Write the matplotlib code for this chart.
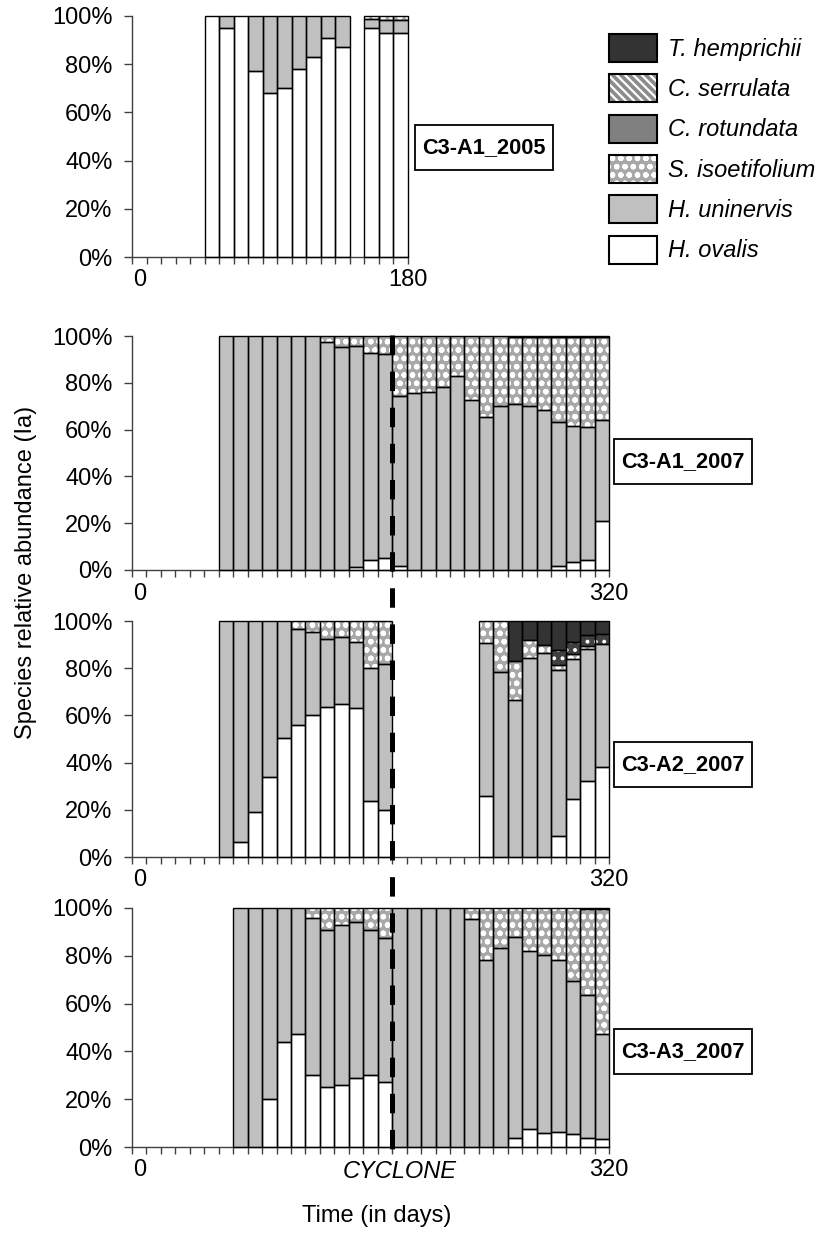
#Import necessary package
import numpy as np
import matplotlib
matplotlib.use("Agg")
import matplotlib.pyplot as plt
from matplotlib.patches import Patch, Rectangle
from matplotlib.lines import Line2D
from matplotlib.legend_handler import HandlerTuple

plt.rcParams['font.family'] = ['Liberation Sans', 'DejaVu Sans']
plt.rcParams['lines.scale_dashes'] = False
plt.rcParams['hatch.linewidth'] = 1.6

W, H = 826, 1242  #figure size in pixels
FS = 17

#Time axis (one category every 10 days)
days_2005 = list(range(0, 190, 10))
days_2007 = list(range(0, 330, 10))

#C3-A1_2005 (% per species)
a1_05_ovalis = [0, 0, 0, 0, 0, 100, 95, 100, 77, 68, 70, 78, 83, 91, 87, 0, 95, 93, 93]
a1_05_uninervis = [0, 0, 0, 0, 0, 0, 5, 0, 23, 32, 30, 22, 17, 9, 13, 0, 3.6, 5.2, 5.2]
a1_05_isoet = [0, 0, 0, 0, 0, 0, 0, 0, 0, 0, 0, 0, 0, 0, 0, 0, 1.4, 1.8, 1.8]

#C3-A1_2007
a1_07_ovalis = [0, 0, 0, 0, 0, 0, 0, 0, 0, 0,
                0, 0, 0, 0, 0, 1.1, 4.3, 5.0, 1.9, 0,
                0, 0, 0, 0, 0, 0, 0, 0, 0, 1.9,
                3.4, 4.3, 20.9]
a1_07_uninervis = [0, 0, 0, 0, 0, 0, 100, 100, 100, 100,
                   100, 100, 100, 97.4, 95.4, 94.6, 88.3, 87.2, 72.5, 75.5,
                   76.2, 78.3, 83.0, 72.5, 65.5, 70.2, 70.8, 70.2, 68.4, 61.5,
                   58.1, 57.0, 43.2]
a1_07_isoet = [0, 0, 0, 0, 0, 0, 0, 0, 0, 0,
               0, 0, 0, 2.6, 4.6, 4.3, 7.4, 7.8, 25.6, 24.5,
               23.8, 21.7, 17.0, 27.5, 34.5, 29.8, 28.6, 29.2, 31.0, 36.0,
               37.9, 38.1, 35.3]
a1_07_hemprichii = [0, 0, 0, 0, 0, 0, 0, 0, 0, 0,
                    0, 0, 0, 0, 0, 0, 0, 0, 0, 0,
                    0, 0, 0, 0, 0, 0, 0.6, 0.6, 0.6, 0.6,
                    0.6, 0.6, 0.6]

#C3-A2_2007
a2_07_ovalis = [0, 0, 0, 0, 0, 0, 0, 6.4, 19.1, 33.9,
                50.6, 56.1, 60.0, 63.6, 64.7, 63.1, 23.7, 20.1, 0, 0,
                0, 0, 0, 0, 25.7, 0, 0, 0, 0, 8.9,
                24.7, 32.1, 38.1]
a2_07_uninervis = [0, 0, 0, 0, 0, 0, 100, 93.6, 80.9, 66.1,
                   49.4, 40.7, 35.3, 28.9, 28.5, 28.0, 56.4, 61.8, 0, 0,
                   0, 0, 0, 0, 65.0, 78.4, 66.7, 84.3, 86.4, 70.5,
                   59.3, 56.2, 52.3]
a2_07_isoet = [0, 0, 0, 0, 0, 0, 0, 0, 0, 0,
               0, 3.2, 4.7, 7.5, 6.8, 8.9, 19.9, 18.1, 0, 0,
               0, 0, 0, 0, 9.3, 21.6, 16.4, 7.5, 3.3, 2.1,
               1.9, 1.0, 0]
a2_07_serrulata = [0, 0, 0, 0, 0, 0, 0, 0, 0, 0,
                   0, 0, 0, 0, 0, 0, 0, 0, 0, 0,
                   0, 0, 0, 0, 0, 0, 0, 0, 0, 6.4,
                   5.2, 4.6, 4.0]
a2_07_hemprichii = [0, 0, 0, 0, 0, 0, 0, 0, 0, 0,
                    0, 0, 0, 0, 0, 0, 0, 0, 0, 0,
                    0, 0, 0, 0, 0, 0, 16.9, 8.2, 10.3, 12.1,
                    8.9, 6.1, 5.6]

#C3-A3_2007
a3_07_ovalis = [0, 0, 0, 0, 0, 0, 0, 0, 0, 20.0,
                44.1, 47.1, 30.1, 24.9, 25.9, 28.7, 30.1, 27.3, 0, 0,
                0, 0, 0, 0, 0, 0, 3.8, 7.4, 5.9, 6.3,
                5.3, 3.9, 3.2]
a3_07_uninervis = [0, 0, 0, 0, 0, 0, 0, 100, 100, 80.0,
                   55.9, 52.9, 65.7, 66.0, 67.1, 65.4, 60.8, 60.1, 100, 100,
                   100, 100, 100, 95.4, 78.3, 83.2, 84.0, 74.7, 74.5, 72.0,
                   64.2, 59.7, 43.9]
a3_07_isoet = [0, 0, 0, 0, 0, 0, 0, 0, 0, 0,
               0, 0, 4.2, 9.1, 7.0, 5.9, 9.1, 12.6, 0, 0,
               0, 0, 0, 4.6, 21.7, 16.8, 12.2, 17.9, 19.6, 21.7,
               30.5, 35.9, 52.3]
a3_07_hemprichii = [0, 0, 0, 0, 0, 0, 0, 0, 0, 0,
                    0, 0, 0, 0, 0, 0, 0, 0, 0, 0,
                    0, 0, 0, 0, 0, 0, 0, 0, 0, 0,
                    0, 0.5, 0.6]

#Style of each species: (face colour, hatch, hatch colour)
styles = {
    "T. hemprichii": ("#333333", None, None),
    "C. serrulata": ("#404040", "..", "white"),
    "C. rotundata": ("#808080", None, None),
    "S. isoetifolium": ("#a8a8a8", "oo", "white"),
    "H. uninervis": ("#c0c0c0", None, None),
    "H. ovalis": ("white", None, None),
}


def px_axes(fig, x0, y0, x1, y1):
    return fig.add_axes([x0 / W, 1 - y1 / H, (x1 - x0) / W, (y1 - y0) / H])


#Draw one stacked 100% bar panel
def draw_panel(ax, days, layers, labels, label_pos):
    n = len(days)
    x = np.arange(n) + 0.5
    bottom = np.zeros(n)
    for name, values in layers:
        v = np.array(values, dtype=float)
        m = v > 0
        face, hatch, hcol = styles[name]
        ax.bar(x[m], v[m], width=1.0, bottom=bottom[m], color=face,
               hatch=hatch, edgecolor=hcol if hatch else face, linewidth=0, zorder=2)
        ax.bar(x[m], v[m], width=1.0, bottom=bottom[m], fill=False,
               edgecolor="black", linewidth=1.0, zorder=3, clip_on=False)
        bottom += v

    ax.set_xlim(0, n)
    ax.set_ylim(0, 100)
    for s in ["top", "right"]:
        ax.spines[s].set_visible(False)
    for s in ["left", "bottom"]:
        ax.spines[s].set_color("#404040")
        ax.spines[s].set_linewidth(1.0)

    ax.set_yticks([0, 20, 40, 60, 80, 100])
    ax.set_yticklabels([f"{t}%" for t in [0, 20, 40, 60, 80, 100]], fontsize=FS)
    ax.tick_params(axis="y", length=6, width=1, color="#404040", pad=8)

    ax.xaxis.remove_overlapping_locs = False
    ax.set_xticks(np.arange(n + 1), minor=True)
    ax.set_xticks(label_pos)
    ax.set_xticklabels(labels, fontsize=FS)
    ax.tick_params(axis="x", which="major", length=0, pad=9)
    ax.tick_params(axis="x", which="minor", length=5, width=1, color="#404040")


fig = plt.figure(figsize=(W / 100, H / 100), dpi=100)

ax1 = px_axes(fig, 132, 16, 408, 257)
draw_panel(ax1, days_2005,
           [("H. ovalis", a1_05_ovalis), ("H. uninervis", a1_05_uninervis),
            ("S. isoetifolium", a1_05_isoet)],
           ["0", "180"], [0.5, len(days_2005)])

ax2 = px_axes(fig, 132, 336, 609, 570)
draw_panel(ax2, days_2007,
           [("H. ovalis", a1_07_ovalis), ("H. uninervis", a1_07_uninervis),
            ("S. isoetifolium", a1_07_isoet), ("T. hemprichii", a1_07_hemprichii)],
           ["0", "320"], [0.5, len(days_2007)])

ax3 = px_axes(fig, 132, 621, 609, 857)
draw_panel(ax3, days_2007,
           [("H. ovalis", a2_07_ovalis), ("H. uninervis", a2_07_uninervis),
            ("S. isoetifolium", a2_07_isoet), ("C. serrulata", a2_07_serrulata),
            ("T. hemprichii", a2_07_hemprichii)],
           ["0", "320"], [0.5, len(days_2007)])

ax4 = px_axes(fig, 132, 908, 609, 1147)
draw_panel(ax4, days_2007,
           [("H. ovalis", a3_07_ovalis), ("H. uninervis", a3_07_uninervis),
            ("S. isoetifolium", a3_07_isoet), ("T. hemprichii", a3_07_hemprichii)],
           ["0", "CYCLONE", "320"], [0.5, 18.5, len(days_2007)])
ax4.get_xticklabels()[1].set_style("italic")

#Site labels in boxes
boxes = [("C3-A1_2005", 415, 125), ("C3-A1_2007", 614, 439),
         ("C3-A2_2007", 614, 742), ("C3-A3_2007", 614, 1029)]
for txt, bx, by in boxes:
    fig.add_artist(Rectangle((bx / W, 1 - (by + 45) / H), 138 / W, 45 / H,
                             transform=fig.transFigure, facecolor="white",
                             edgecolor="black", linewidth=1.3))
    fig.text((bx + 69) / W, 1 - (by + 23) / H, txt, ha="center", va="center",
             fontsize=FS - 1.3, fontweight="bold")

#Cyclone dashed line (between day 170 and 180 of the 2007 series)
top = fig.transFigure.inverted().transform(ax2.transData.transform((18, 100)))
bot = fig.transFigure.inverted().transform(ax4.transData.transform((18, 0)))
fig.add_artist(Line2D([top[0], bot[0]], [top[1] + 1 / H, bot[1] - 6 / H],
                      transform=fig.transFigure, color="black", linewidth=3.6,
                      linestyle=(0, (14, 12)), zorder=10))

#Legend
legend_names = ["T. hemprichii", "C. serrulata", "C. rotundata",
                "S. isoetifolium", "H. uninervis", "H. ovalis"]
handles = []
for name in legend_names:
    face, hatch, hcol = styles[name]
    if name == "C. serrulata":
        face, hatch, hcol = "#8c8c8c", "\\\\\\\\", "white"
    inner = Patch(facecolor=face, hatch=hatch, edgecolor=hcol if hatch else face, linewidth=0)
    outline = Patch(facecolor="none", edgecolor="black", linewidth=1.5)
    handles.append((inner, outline))
fig.legend(handles, legend_names, loc="upper left",
           bbox_to_anchor=(609 / W, 1 - 34 / H), frameon=False,
           prop={"style": "italic", "size": FS}, handlelength=2.05,
           handleheight=1.45, handletextpad=0.45, labelspacing=0.52,
           borderpad=0, borderaxespad=0,
           handler_map={tuple: HandlerTuple(ndivide=1, pad=0)})

fig.text(26 / W, 1 - 572 / H, "Species relative abundance (Ia)", rotation=90,
         ha="center", va="center", fontsize=FS)
fig.text(377 / W, 1 - 1216 / H, "Time (in days)", ha="center", va="center",
         fontsize=FS)

fig.savefig("out.png", dpi=100)
plt.close(fig)
